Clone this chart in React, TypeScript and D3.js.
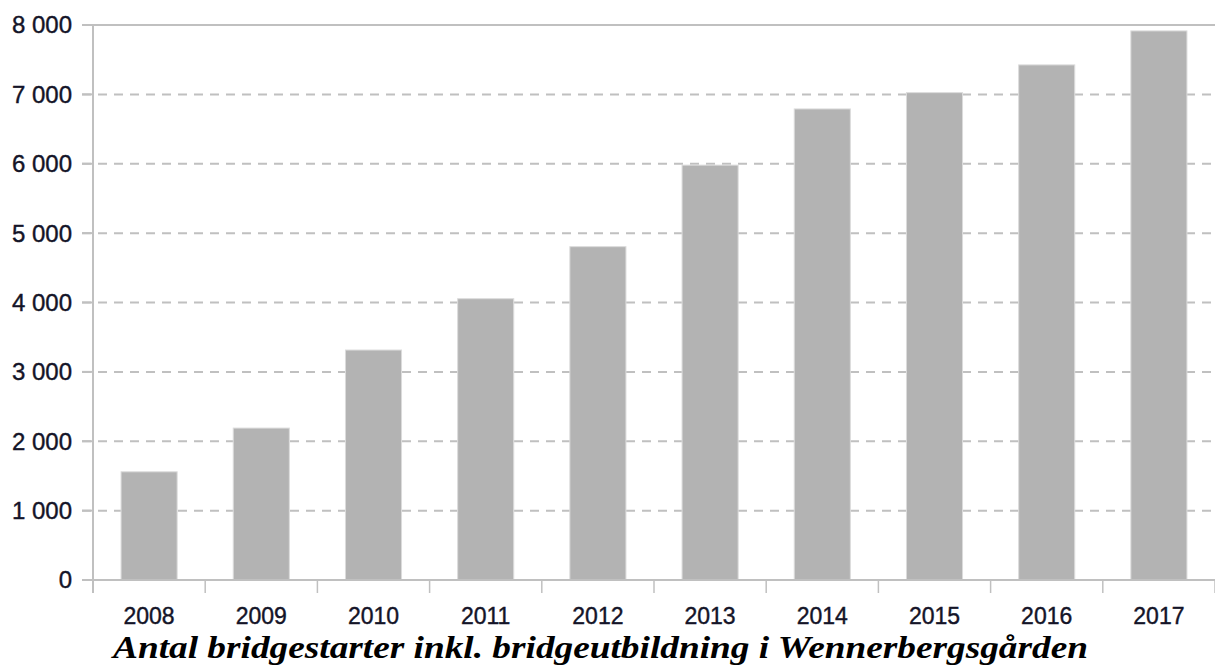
import React from 'react';
import * as d3 from 'd3';

const years = ['2008', '2009', '2010', '2011', '2012', '2013', '2014', '2015', '2016', '2017'];
const starts = [1560, 2190, 3315, 4055, 4805, 5980, 6790, 7025, 7425, 7915];
const yTicks = [0, 1000, 2000, 3000, 4000, 5000, 6000, 7000, 8000];
const title = 'Antal bridgestarter inkl. bridgeutbildning i Wennerbergsgården';

const width = 1215;
const height = 672;
const margin = { top: 25, right: 0, bottom: 92, left: 93 };

const App = () => {
  const x = d3
    .scaleBand()
    .domain(years)
    .range([margin.left, width - margin.right])
    .paddingInner(0.5)
    .paddingOuter(0.25);
  const y = d3
    .scaleLinear()
    .domain([0, 8000])
    .range([height - margin.bottom, margin.top]);

  const fmt = (v: number) => d3.format(',')(v).replace(/,/g, ' ');
  const grid = '#c0c0c0';
  const ink = '#141428';
  const y0 = y(0);
  const step = x.step();

  return (
    <svg
      width={width}
      height={height}
      style={{ position: 'absolute', left: 0, top: 0, background: '#fff' }}
    >
      {/* gridlines */}
      {yTicks.map((t) => (
        <line
          key={'g' + t}
          x1={margin.left - 11}
          x2={width - margin.right}
          y1={y(t)}
          y2={y(t)}
          stroke={grid}
          strokeWidth={2}
          strokeDasharray={t === 0 || t === 8000 ? undefined : '9 7'}
        />
      ))}
      {/* y-axis */}
      <line x1={margin.left} x2={margin.left} y1={margin.top} y2={y0 + 13} stroke={grid} strokeWidth={2} />
      {yTicks.map((t) => (
        <line key={'yt' + t} x1={margin.left - 11} x2={margin.left} y1={y(t)} y2={y(t)} stroke={grid} strokeWidth={2} />
      ))}
      {/* bars */}
      {years.map((yr, i) => (
        <rect
          key={yr}
          x={x(yr)}
          y={y(starts[i])}
          width={x.bandwidth()}
          height={y0 - y(starts[i])}
          fill="#b3b3b3"
          stroke="#dcdcdc"
          strokeWidth={1}
        />
      ))}
      {/* x ticks between categories */}
      {years.map((yr, i) => (
        <line
          key={'xt' + yr}
          x1={margin.left + step * (i + 1)}
          x2={margin.left + step * (i + 1)}
          y1={y0}
          y2={y0 + 13}
          stroke={grid}
          strokeWidth={1.5}
        />
      ))}
      <line x1={margin.left - 11} x2={width - margin.right} y1={y0} y2={y0} stroke={grid} strokeWidth={2} />
      {/* y labels */}
      {yTicks.map((t) => (
        <text
          key={'yl' + t}
          x={72}
          y={y(t)}
          dy="0.35em"
          textAnchor="end"
          fontFamily="'Liberation Sans', Arial, sans-serif"
          fontSize={24}
          fill={ink}
          stroke={ink}
          strokeWidth={0.4}
        >
          {fmt(t)}
        </text>
      ))}
      {/* x labels */}
      {years.map((yr) => (
        <text
          key={'xl' + yr}
          x={(x(yr) as number) + x.bandwidth() / 2}
          y={624}
          textAnchor="middle"
          fontFamily="'Liberation Sans', Arial, sans-serif"
          fontSize={23}
          fill={ink}
          stroke={ink}
          strokeWidth={0.4}
        >
          {yr}
        </text>
      ))}
      <text
        x={600.5}
        y={658}
        textAnchor="middle"
        fontFamily="'Liberation Serif', 'Times New Roman', serif"
        fontStyle="italic"
        fontWeight="bold"
        fontSize={31}
        textLength={975}
        lengthAdjust="spacingAndGlyphs"
        fill="#000"
      >
        {title}
      </text>
    </svg>
  );
};

export default App;
